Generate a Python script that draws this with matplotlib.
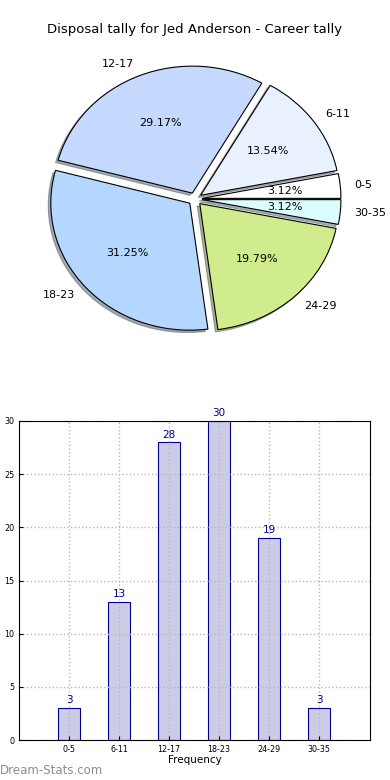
import matplotlib
matplotlib.use("Agg")
import matplotlib.pyplot as plt

title = "Disposal tally for Jed Anderson - Career tally"
categories = ["0-5", "6-11", "12-17", "18-23", "24-29", "30-35"]
counts = [3, 13, 28, 30, 19, 3]
pie_colors = ["#ffffff", "#eaf1fe", "#c5d9fe", "#b5d6fe", "#d1ec8c", "#dafefe"]
explode = [0.05] * 6
ylabel_text = "Disposal tally"
xlabel_text = "Frequency"
watermark = "Dream-Stats.com"

W, H = 390, 780
fig = plt.figure(figsize=(W / 100, H / 100), dpi=100)

# ---- pie ----
cx, cy = 195, 199
rx, ry = 139, 127
lim = 1.25
axp = fig.add_axes([(cx - lim * rx) / W, (H - cy - lim * ry) / H,
                    2 * lim * rx / W, 2 * lim * ry / H])
wedges, texts, autotexts = axp.pie(
    counts, labels=categories, colors=pie_colors, explode=explode,
    autopct="%1.2f%%", shadow={"ox": -0.013, "oy": -0.013, "shade": 0.6},
    startangle=0, labeldistance=1.1,
    wedgeprops=dict(edgecolor="black", linewidth=0.8),
    textprops=dict(fontsize=8))
axp.set_aspect("auto")
axp.set_xlim(-lim, lim)
axp.set_ylim(-lim, lim)
axp.axis("off")

fig.text(0.5, 1 - 30 / H, title, ha="center", va="center", fontsize=9.5)

# ---- bars ----
axb = fig.add_axes([19 / W, 40 / H, 351 / W, 319 / H])
x = list(range(len(categories)))
bars = axb.bar(x, counts, width=0.45, color="#cccce6",
               edgecolor="#00008b", linewidth=0.8, zorder=2)
for xi, v in zip(x, counts):
    axb.text(xi, v + 0.25, str(v), ha="center", va="bottom", fontsize=7.5,
             color="#00008b", clip_on=False)
axb.set_xlim(-1, 6.02)
axb.set_ylim(0, 30)
axb.set_xticks(x)
axb.set_xticklabels(categories, fontsize=5.8)
axb.set_yticks(range(0, 31, 5))
axb.tick_params(axis="y", labelsize=5.8, direction="in", length=3)
axb.tick_params(axis="x", direction="in", length=3)
axb.grid(True, linestyle=":", color="#b8b8b8", linewidth=1)
axb.set_axisbelow(False)
for sp in axb.spines.values():
    sp.set_zorder(4)
axb.set_xlabel(xlabel_text, fontsize=7.5, labelpad=1)
axb.set_ylabel(ylabel_text, fontsize=7.5)
axb.yaxis.set_label_coords(-0.05, 0.5)

fig.text(0, 1 - 771 / H, watermark, ha="left", va="center", fontsize=8.5,
         color="#8c8c8c")

fig.savefig("out.png", dpi=100)
